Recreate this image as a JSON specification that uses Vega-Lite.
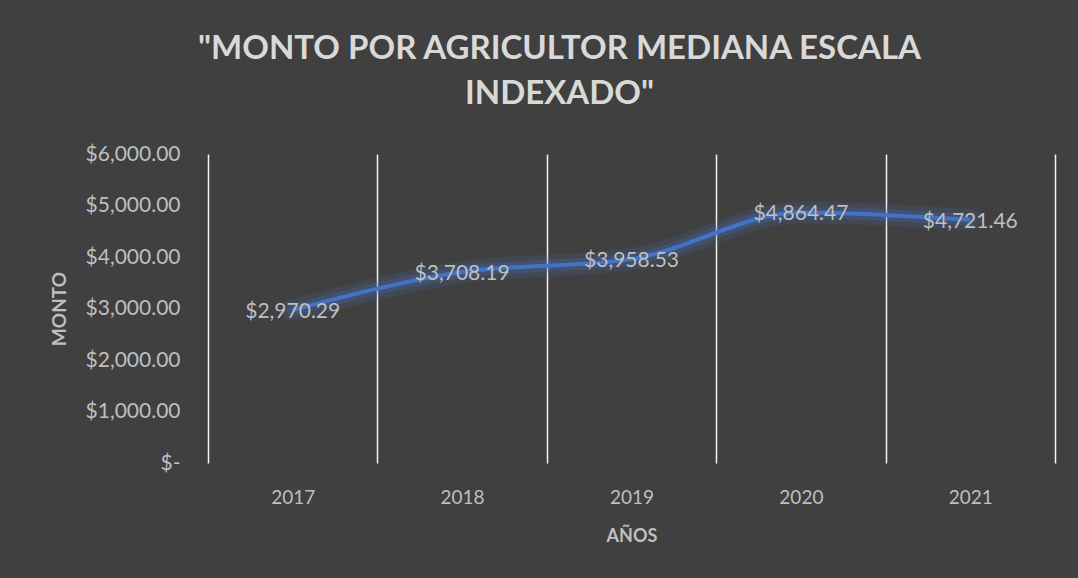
{
  "$schema": "https://vega.github.io/schema/vega-lite/v6.json",
  "autosize": "none",
  "width": 847,
  "height": 309,
  "padding": {"left": 208, "top": 154, "right": 23, "bottom": 115},
  "background": "#404040",
  "config": {"view": {"stroke": null}, "font": "Lato"},
  "title": {
    "text": ["\"MONTO POR AGRICULTOR MEDIANA ESCALA", "INDEXADO\""],
    "fontSize": 33,
    "fontWeight": "bold",
    "color": "#d9d9d9",
    "anchor": "middle",
    "frame": "group",
    "dx": -72,
    "offset": 32,
    "lineHeight": 45
  },
  "data": {
    "values": [
      {"year": 2017, "monto": 2970.29},
      {"year": 2018, "monto": 3708.19},
      {"year": 2019, "monto": 3958.53},
      {"year": 2020, "monto": 4864.47},
      {"year": 2021, "monto": 4721.46}
    ]
  },
  "encoding": {
    "x": {
      "field": "year",
      "type": "quantitative",
      "scale": {"domain": [2016.5, 2021.5], "nice": false, "zero": false},
      "axis": {
        "values": [2016.5, 2017, 2017.5, 2018, 2018.5, 2019, 2019.5, 2020, 2020.5, 2021, 2021.5],
        "labelExpr": "datum.value % 1 == 0 ? format(datum.value, 'd') : ''",
        "grid": true,
        "gridColor": "#f2f2f2",
        "gridWidth": 1.5,
        "gridOpacity": {"condition": {"test": "datum.value % 1 == 0", "value": 0}, "value": 1},
        "ticks": false,
        "domain": false,
        "labelColor": "#bfbfbf",
        "labelFontSize": 19,
        "labelPadding": 25,
        "title": "AÑOS",
        "titleFontSize": 18,
        "titleFontWeight": "bold",
        "titleColor": "#bfbfbf",
        "titlePadding": 20
      }
    },
    "y": {
      "field": "monto",
      "type": "quantitative",
      "scale": {"domain": [0, 6000], "nice": false},
      "axis": {
        "values": [0, 1000, 2000, 3000, 4000, 5000, 6000],
        "labelExpr": "datum.value == 0 ? '$-' : format(datum.value, '$,.2f')",
        "grid": false,
        "domain": false,
        "ticks": false,
        "labelPadding": 28,
        "labelFontSize": 21,
        "labelColor": "#bfbfbf",
        "title": "MONTO",
        "titleFontSize": 19,
        "titleFontWeight": "bold",
        "titleColor": "#bfbfbf",
        "titlePadding": 16
      }
    }
  },
  "layer": [
    {"mark": {"type": "line", "interpolate": "monotone", "strokeWidth": 22, "color": "#4472C4", "opacity": 0.14, "strokeCap": "round"}},
    {"mark": {"type": "line", "interpolate": "monotone", "strokeWidth": 12, "color": "#4472C4", "opacity": 0.25, "strokeCap": "round"}},
    {"mark": {"type": "line", "interpolate": "monotone", "strokeWidth": 4, "color": "#4472C4"}},
    {
      "mark": {"type": "text", "align": "center", "baseline": "middle", "fontSize": 21, "color": "#bfbfbf", "dy": 2},
      "encoding": {"text": {"field": "monto", "type": "quantitative", "format": "$,.2f"}}
    }
  ]
}
